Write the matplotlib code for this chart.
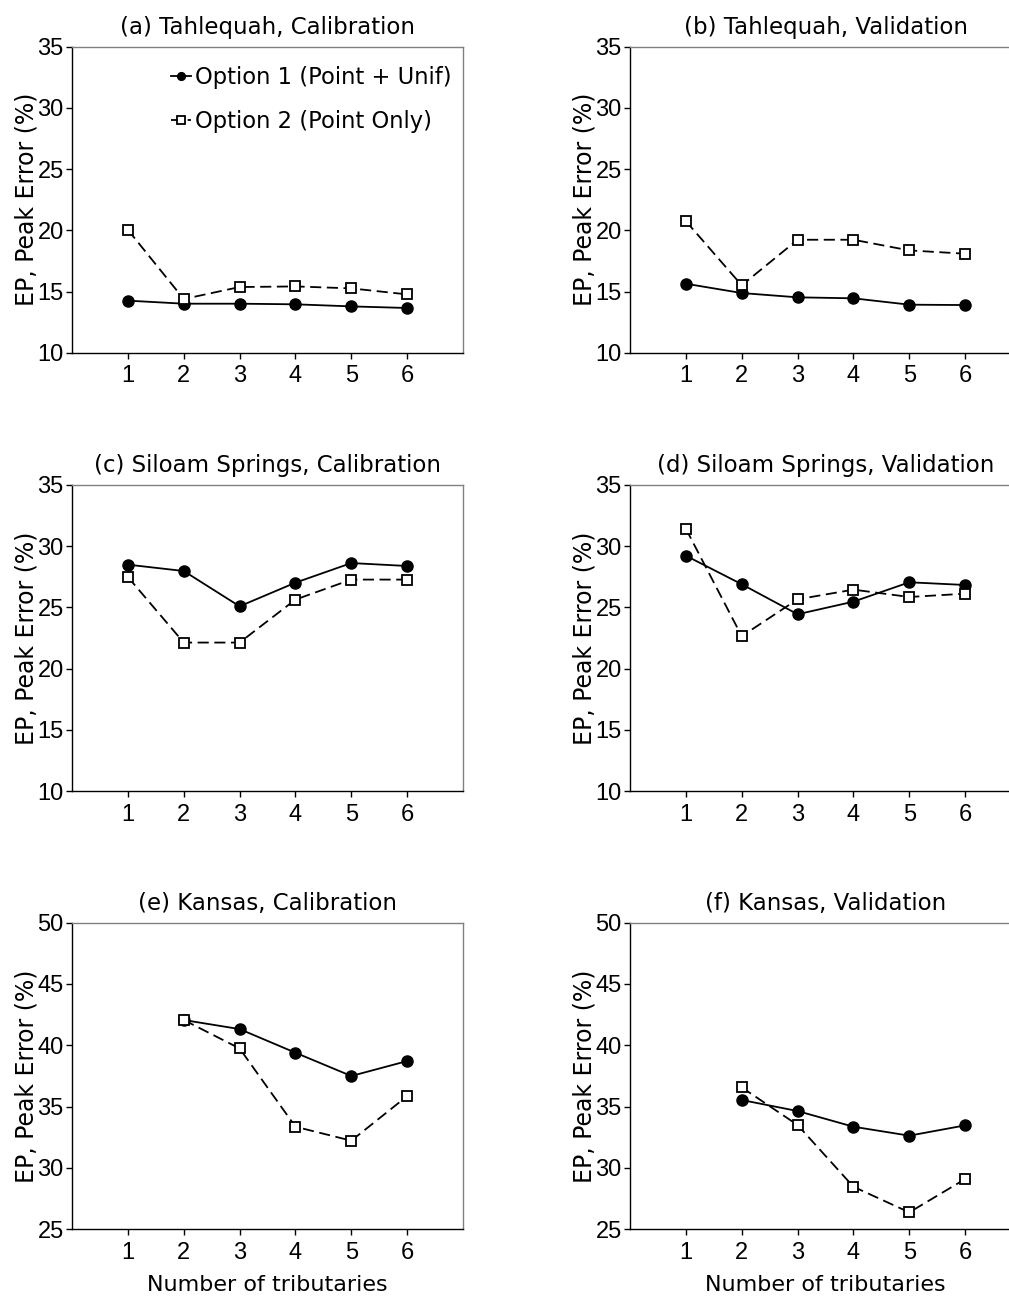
import matplotlib
matplotlib.use('Agg')
import matplotlib.pyplot as plt

plt.rcParams['font.family'] = ['Liberation Sans', 'DejaVu Sans']
plt.rcParams['lines.scale_dashes'] = False

WIDE = ['DejaVu Sans']  # wider face for titles / labels, closer to the original spacing

tribs = [1, 2, 3, 4, 5, 6]
tribs_k = [2, 3, 4, 5, 6]

# option 1 = point + uniform, option 2 = point only
tah_cal_opt1 = [14.27, 14.02, 14.02, 13.97, 13.80, 13.67]
tah_cal_opt2 = [20.05, 14.40, 15.38, 15.43, 15.27, 14.78]
tah_val_opt1 = [15.65, 14.89, 14.54, 14.46, 13.94, 13.91]
tah_val_opt2 = [20.76, 15.52, 19.24, 19.24, 18.37, 18.10]
sil_cal_opt1 = [28.48, 27.96, 25.08, 27.01, 28.61, 28.37]
sil_cal_opt2 = [27.47, 22.12, 22.12, 25.63, 27.26, 27.26]
sil_val_opt1 = [29.21, 26.88, 24.43, 25.46, 27.04, 26.82]
sil_val_opt2 = [31.41, 22.64, 25.65, 26.44, 25.84, 26.11]
kan_cal_opt1 = [42.06, 41.32, 39.39, 37.49, 38.71]
kan_cal_opt2 = [42.06, 39.74, 33.35, 32.21, 35.85]
kan_val_opt1 = [35.53, 34.63, 33.35, 32.62, 33.46]
kan_val_opt2 = [36.56, 33.49, 28.45, 26.36, 29.08]

titles = ['(a) Tahlequah, Calibration', '(b) Tahlequah, Validation',
          '(c) Siloam Springs, Calibration', '(d) Siloam Springs, Validation',
          '(e) Kansas, Calibration', '(f) Kansas, Validation']
ylims = [(10, 35), (10, 35), (10, 35), (10, 35), (25, 50), (25, 50)]

panels = [
    (tribs, tah_cal_opt1, tah_cal_opt2),
    (tribs, tah_val_opt1, tah_val_opt2),
    (tribs, sil_cal_opt1, sil_cal_opt2),
    (tribs, sil_val_opt1, sil_val_opt2),
    (tribs_k, kan_cal_opt1, kan_cal_opt2),
    (tribs_k, kan_val_opt1, kan_val_opt2),
]

fig = plt.figure(figsize=(10.09, 13), dpi=100)
lefts = [0.0714, 0.6244]
bottoms = [0.7285, 0.3915, 0.0546]
w, h = 0.3875, 0.2356

axes = []
for i, (x, y1, y2) in enumerate(panels):
    ax = fig.add_axes([lefts[i % 2], bottoms[i // 2], w, h])
    axes.append(ax)
    ax.plot(x, y1, '-', color='black', lw=1.3, marker='o', ms=8,
            mfc='black', mec='black', label='Option 1 (Point + Unif)')
    ax.plot(x, y2, color='black', lw=1.3, dashes=(8, 4), marker='s', ms=7.5,
            mfc='white', mec='black', mew=1.3, label='Option 2 (Point Only)')
    ax.set_xlim(0, 7)
    ax.set_ylim(*ylims[i])
    lo = ylims[i][0]
    ax.set_yticks(range(lo, lo + 26, 5))
    ax.set_xticks(tribs)
    ax.tick_params(labelsize=17, length=4, width=1, pad=2)
    ax.tick_params(axis='x', pad=5)
    ax.set_title(titles[i], fontsize=16.5, pad=9, family=WIDE)
    ax.set_ylabel('EP, Peak Error (%)', fontsize=17, labelpad=-1, family=WIDE)
    for s in ['top', 'right']:
        ax.spines[s].set_color('#808080')
    for s in ['left', 'bottom']:
        ax.spines[s].set_color('black')
    for s in ax.spines.values():
        s.set_linewidth(1.0)
    if i >= 4:
        ax.set_xlabel('Number of tributaries', fontsize=16, labelpad=8, family=WIDE)

axes[0].legend(loc='upper left', bbox_to_anchor=(0.253, 0.938), frameon=False,
               prop={'family': WIDE, 'size': 16.3}, handlelength=0.9,
               handletextpad=0.15, labelspacing=0.95, borderpad=0,
               borderaxespad=0, markerscale=0.7)

fig.savefig('out.png', dpi=100)
